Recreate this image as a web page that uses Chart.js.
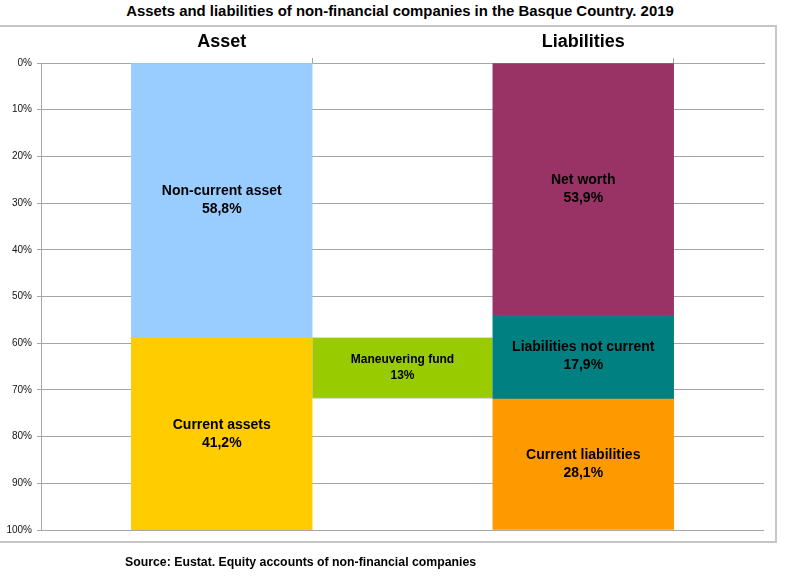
<!DOCTYPE html>
<html>
<head>
<meta charset="utf-8">
<script src="https://cdn.jsdelivr.net/npm/chart.js@4.4.1/dist/chart.umd.min.js"></script>
<style>
  html, body { margin: 0; padding: 0; background: #fff; }
  #page { position: relative; width: 800px; height: 587px; overflow: hidden; font-family: "Liberation Sans", Arial, sans-serif; }
  #frame { position: absolute; left: -2px; top: 25px; width: 775px; height: 514px; border: 2px solid #c6c6c6; }
  #title { position: absolute; left: 0; top: 3px; width: 800px; text-align: center; font-weight: bold; font-size: 14.9px; color: #000; }
  #source { position: absolute; left: 125px; top: 555px; font-weight: bold; font-size: 12.3px; color: #000; }
  #wrap { position: absolute; left: 0; top: 0; width: 800px; height: 587px; }
</style>
</head>
<body>
<div id="page">
  <div id="frame"></div>
  <div id="title">Assets and liabilities of non-financial companies in the Basque Country. 2019</div>
  <div id="wrap"><canvas id="balanceChart"></canvas></div>
  <div id="source">Source: Eustat. Equity accounts of non-financial companies</div>
</div>
<script>
// ===== DATOS =====
const columnLabels = ['', 'Asset', '', 'Liabilities', ''];
const assetNames = ['Non-current asset', 'Current assets'];
const assetValues = [58.8, 41.2];
const assetColors = ['#99CCFF', '#FFCC00'];
const liabilityNames = ['Net worth', 'Liabilities not current', 'Current liabilities'];
const liabilityValues = [53.9, 17.9, 28.1];
const liabilityColors = ['#993366', '#008080', '#FF9900'];
const fundName = 'Maneuvering fund';
const fundValue = 13;
const fundColor = '#99CC00';
const yTickValues = [0, 10, 20, 30, 40, 50, 60, 70, 80, 90, 100];

// columna de cada bloque en el eje de categorias
const ASSET_SLOT = 1;
const FUND_SLOT = 2;
const LIAB_SLOT = 3;

const GRID = '#a6a6a6';

function fmtPct(v) {
  return String(v).replace('.', ',') + '%';
}

// barra flotante [inicio, fin] en una sola columna
function slotData(slot, start, end) {
  return columnLabels.map(function(_, i) { return i === slot ? [start, end] : null; });
}

function buildStack(names, values, colors, slot) {
  let acc = 0;
  return names.map(function(name, i) {
    const start = acc;
    acc += values[i];
    return {
      label: name,
      valueText: fmtPct(values[i]),
      data: slotData(slot, start, acc),
      backgroundColor: colors[i],
      borderWidth: 0,
      fontSize: 14
    };
  });
}

const datasets = []
  .concat(buildStack(assetNames, assetValues, assetColors, ASSET_SLOT))
  .concat(buildStack(liabilityNames, liabilityValues, liabilityColors, LIAB_SLOT));

// el fondo de maniobra arranca donde termina el activo no corriente
datasets.push({
  label: fundName,
  valueText: fmtPct(fundValue),
  data: slotData(FUND_SLOT, assetValues[0], assetValues[0] + fundValue),
  backgroundColor: fundColor,
  borderColor: '#c0c0c0',
  borderWidth: 1,
  fontSize: 12
});

// ===== ETIQUETAS DENTRO DE LAS BARRAS =====
const barLabels = {
  id: 'barLabels',
  afterDatasetsDraw: function(chart) {
    const ctx = chart.ctx;
    ctx.save();
    ctx.fillStyle = '#000';
    ctx.textAlign = 'center';
    ctx.textBaseline = 'middle';
    chart.data.datasets.forEach(function(ds, di) {
      const meta = chart.getDatasetMeta(di);
      meta.data.forEach(function(bar, i) {
        if (ds.data[i] == null) return;
        const cy = (bar.y + bar.base) / 2;
        const lh = ds.fontSize + 4;
        ctx.font = 'bold ' + ds.fontSize + 'px "Liberation Sans", Arial, sans-serif';
        ctx.fillText(ds.label, bar.x, cy - lh / 2);
        ctx.fillText(ds.valueText, bar.x, cy + lh / 2);
      });
    });
    ctx.restore();
  }
};

// ===== GRAFICO =====
new Chart(document.getElementById('balanceChart'), {
  type: 'bar',
  data: { labels: columnLabels, datasets: datasets },
  options: {
    responsive: true,
    maintainAspectRatio: false,
    animation: false,
    grouped: false,
    categoryPercentage: 1,
    barPercentage: 1,
    layout: { padding: { left: 0, right: 36, top: 0, bottom: 57 } },
    plugins: {
      legend: { display: false },
      tooltip: { enabled: false },
      title: { display: false }
    },
    scales: {
      x: {
        type: 'category',
        position: 'top',
        offset: false,
        afterFit: function(scale) { scale.height = 63; },
        grid: {
          drawOnChartArea: false,
          tickLength: 5,
          color: function(c) { return columnLabels[c.index] ? 'rgba(0,0,0,0)' : GRID; }
        },
        border: { color: GRID },
        ticks: {
          autoSkip: false,
          maxRotation: 0,
          padding: 5,
          color: '#000',
          font: { family: '"Liberation Sans", Arial, sans-serif', size: 18, weight: 'bold' }
        }
      },
      y: {
        reverse: true,
        min: 0,
        max: 100,
        afterFit: function(scale) { scale.width = 41; },
        afterBuildTicks: function(scale) {
          scale.ticks = yTickValues.map(function(v) { return { value: v }; });
        },
        grid: { color: GRID, tickLength: 4 },
        border: { color: GRID },
        ticks: {
          padding: 5,
          color: '#111',
          font: { family: '"Liberation Sans", Arial, sans-serif', size: 10 },
          callback: function(v) { return v + '%'; }
        }
      }
    }
  },
  plugins: [barLabels]
});
</script>
</body>
</html>
